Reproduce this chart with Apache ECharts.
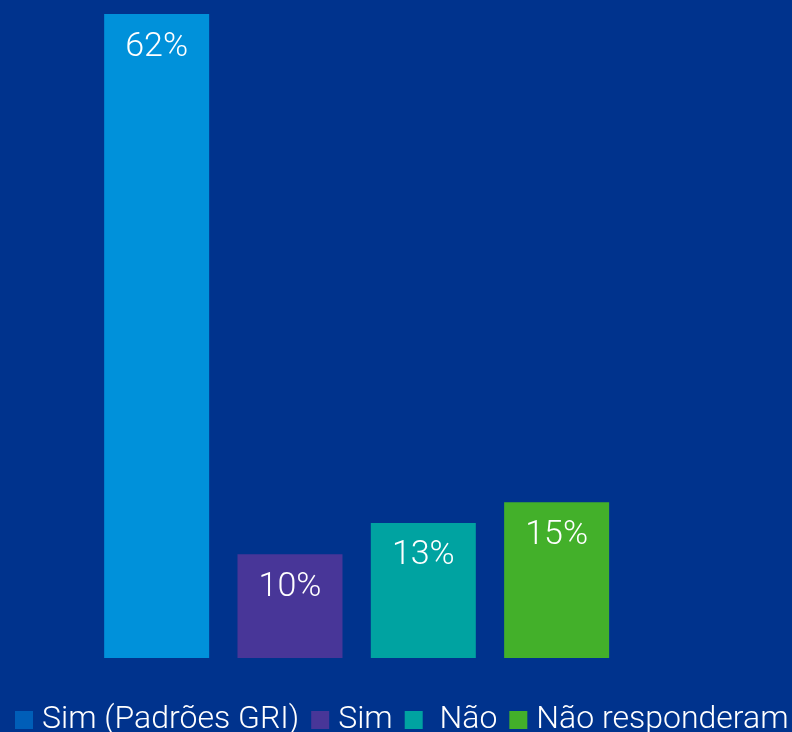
<!DOCTYPE html>
<html>
<head>
<meta charset="utf-8">
<script src="https://cdn.jsdelivr.net/npm/echarts@6/dist/echarts.min.js"></script>
<style>
  html, body { margin: 0; padding: 0; background: #00338D; }
  #container { width: 792px; height: 732px; }
</style>
</head>
<body>
<div id="container"></div>
<script>
// dados
var categorias = ['Sim (Padrões GRI)', 'Sim', ' Não', 'Não responderam'];
var valores = [62, 10, 13, 15];
var coresBarra = ['#0091DA', '#483698', '#00A3A1', '#43B02A'];
var coresLegenda = ['#005EB8', '#483698', '#00A3A1', '#43B02A'];

var myChart = echarts.init(document.getElementById('container'));

var series = [];
for (var i = 0; i < categorias.length; i++) {
    var d = [];
    for (var j = 0; j < categorias.length; j++) {
        d.push(i == j ? valores[j] : '-');
    }
    series.push({
        name: categorias[i],
        type: 'bar',
        stack: 'total',
        barWidth: 105,
        itemStyle: { color: coresBarra[i] },
        label: {
            show: true,
            position: 'insideTop',
            distance: 16,
            formatter: '{c}%',
            color: '#ffffff',
            fontFamily: 'Roboto',
            fontWeight: 300,
            fontSize: 34
        },
        data: d
    });
}

var option = {
    backgroundColor: '#00338D',
    animation: false,
    grid: {
        left: 90,
        width: 533.3,
        top: 14,
        bottom: 74
    },
    legend: {
        left: 15,
        top: 704,
        width: 900,
        padding: 0,
        itemWidth: 18,
        itemHeight: 18,
        itemGap: 12,
        icon: 'rect',
        textStyle: {
            color: '#ffffff',
            fontFamily: 'Roboto',
            fontWeight: 300,
            fontSize: 32,
            padding: [0, 0, 0, 4]
        },
        data: categorias.map(function (n, k) {
            return { name: n, itemStyle: { color: coresLegenda[k] } };
        })
    },
    xAxis: {
        type: 'category',
        data: categorias,
        show: false
    },
    yAxis: {
        type: 'value',
        min: 0,
        max: 62,
        show: false
    },
    series: series
};
myChart.setOption(option);
</script>
</body>
</html>
